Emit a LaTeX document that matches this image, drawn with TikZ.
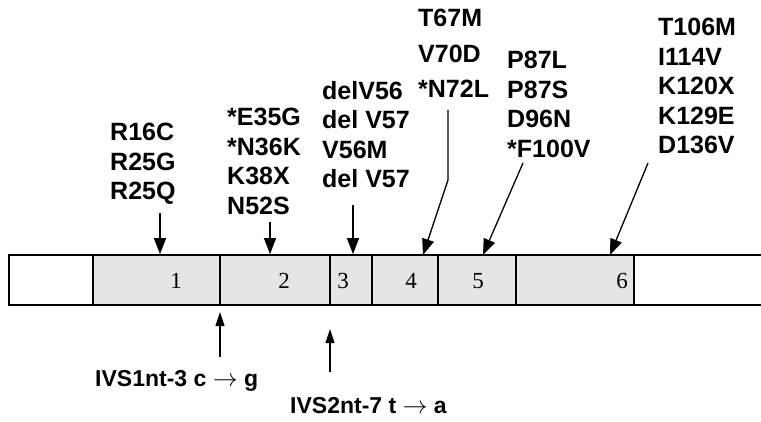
\documentclass[tikz,border=0pt]{standalone}
\usepackage{fontspec}
\setmainfont{Liberation Serif}
\newfontfamily\labfont{Liberation Sans}
\usetikzlibrary{arrows.meta}
\tikzset{
  x=1pt,y=-1pt,
  mut/.style={anchor=north west,align=left,inner sep=0pt,font=\labfont\bfseries\fontsize{25}{29.5}\selectfont},
  exon/.style={draw,line width=1.8pt,fill=black!10,minimum height=50pt,inner sep=0pt},
  plain/.style={exon,fill=white},
  num/.style={font=\fontsize{23}{24}\selectfont},
  pin/.style={line width=1.3pt,-{Triangle[length=16pt,width=12pt]}},
  upin/.style={line width=1.1pt,-{Triangle[length=14pt,width=9pt]}},
  ivs/.style={anchor=west,inner sep=0pt,font=\labfont\bfseries\fontsize{23}{24}\selectfont}
}
\begin{document}
\begin{tikzpicture}
\useasboundingbox (0,0) rectangle (761,421);
% gene bar
\node[plain,minimum width=84pt] (e0) at (51,280) {};
\node[exon,minimum width=127pt] (e1) at (156.5,280) {};
\node[exon,minimum width=110pt] (e2) at (275,280) {};
\node[exon,minimum width=42pt] (e3) at (351,280) {};
\node[exon,minimum width=66pt] (e4) at (405,280) {};
\node[exon,minimum width=78pt] (e5) at (477,280) {};
\node[exon,minimum width=118pt] (e6) at (575,280) {};
\fill[white] (634.9,255) rectangle (761,305);
\draw[line width=1.8pt] (634,255) -- (762,255) (634,305) -- (762,305);
\node[num] (n1) at (176,281) {1};
\node[num] (n2) at (284,281) {2};
\node[num] (n3) at (343,281) {3};
\node[num] (n4) at (411,281) {4};
\node[num] (n5) at (478,281) {5};
\node[num] (n6) at (622,281) {6};
% mutation labels
\node[mut] (g1) at (110,123) {R16C\\R25G\\R25Q};
\node[mut] (g2) at (227,108) {*E35G\\*N36K\\K38X\\N52S};
\node[mut] (g3) at (322,81) {delV56\\del V57\\V56M\\del V57};
\node[mut,font=\labfont\bfseries\fontsize{25}{35.5}\selectfont] (g4) at (418,9) {T67M\\V70D\\*N72L};
\node[mut] (g5) at (507,51) {P87L\\P87S\\D96N\\*F100V};
\node[mut] (g6) at (658,18) {T106M\\I114V\\K120X\\K129E\\D136V};
% arrows from labels
\coordinate (a1) at (160,213);
\coordinate (a2) at (270,222);
\coordinate (a3) at (353,205);
\coordinate (a4) at (448,110);
\coordinate (a4b) at (448,180);
\coordinate (a5) at (523,163);
\coordinate (a6) at (648,163);
\draw[pin] (a1) -- (a1 |- e1.north);
\draw[pin] (a2) -- (a2 |- e2.north);
\draw[pin] (a3) -- (a3 |- e3.north);
\draw[pin] (a4) -- (a4b) -- (423,255);
\draw[pin] (a5) -- (483,255);
\draw[pin] (a6) -- (610,255);
% intron variants
\node[ivs] (i1) at (95,381) {IVS1nt-3 c $\rightarrow$ g};
\node[ivs] (i2) at (290,406) {IVS2nt-7 t $\rightarrow$ a};
\coordinate (b1) at (220,357);
\coordinate (b2) at (330,372);
\draw[upin] (b1) -- (220,312);
\draw[upin] (b2) -- (330,329);
\end{tikzpicture}
\end{document}
